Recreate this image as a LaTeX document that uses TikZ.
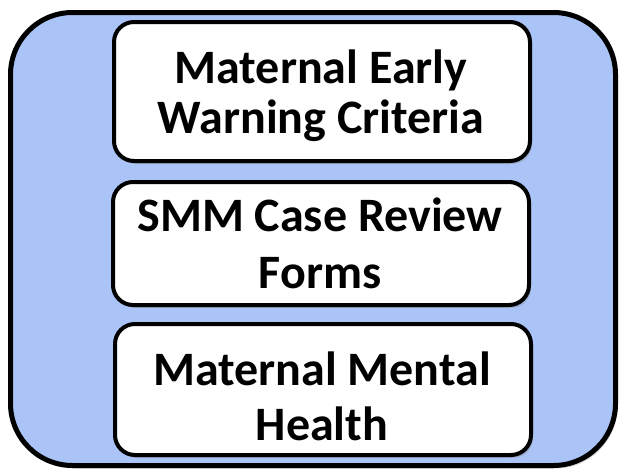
\documentclass[tikz,border=0pt]{standalone}
\usepackage{fontspec}
\setmainfont{Carlito}
\usetikzlibrary{shadows}

\definecolor{panelblue}{RGB}{171,196,247}

\begin{document}
\begin{tikzpicture}[x=1pt,y=-1pt,
  panel/.style={draw=black,line width=5pt,fill=panelblue,rounded corners=62pt,
    drop shadow={opacity=0.35,shadow xshift=2pt,shadow yshift=-3pt}},
  itembox/.style={draw=black,line width=4pt,fill=white,rounded corners=20pt,
    minimum width=416pt,inner sep=0pt,
    drop shadow={opacity=0.35,shadow xshift=2pt,shadow yshift=-3pt}},
  itemtext/.style={inner sep=0pt,align=center,font=\bfseries}
]
\useasboundingbox (0,0) rectangle (623,471);

%--------------------
% 外枠
%--------------------
\draw[panel] (10.5,12.5) rectangle (615.5,465.5);

%--------------------
% 項目の枠
%--------------------
\node[itembox,minimum height=139pt] (warning) at (322,91.5) {};
\node[itembox,minimum height=123pt] (review) at (321,243.5) {};
\node[itembox,minimum height=131pt] (mental) at (323,389.5) {};

% 項目の文字
\node[itemtext,font=\fontsize{48}{50}\selectfont\bfseries] (warningtext)
  at (321,96) {Maternal Early\\Warning Criteria};
\node[itemtext,font=\fontsize{48}{57}\selectfont\bfseries] (reviewtext)
  at (320,243) {SMM Case Review\\Forms};
\node[itemtext,font=\fontsize{48}{55}\selectfont\bfseries] (mentaltext)
  at (322,396) {Maternal Mental\\Health};

\end{tikzpicture}
\end{document}
